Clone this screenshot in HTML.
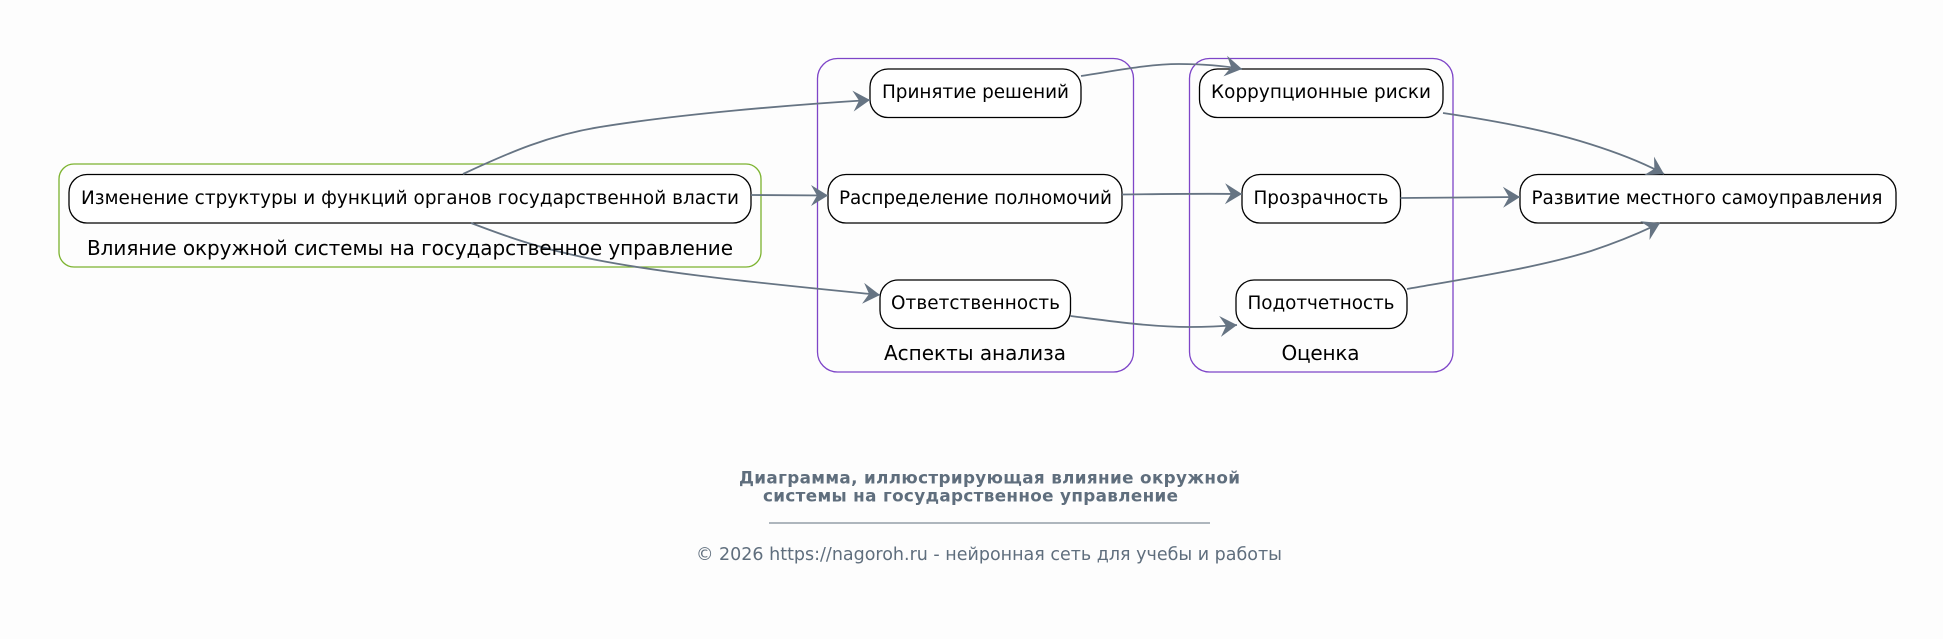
<!DOCTYPE html>
<html><head><meta charset="utf-8"><style>
html,body{margin:0;padding:0;background:#fdfdfd;width:1943px;height:639px;overflow:hidden}
svg{display:block}
text{font-family:"DejaVu Sans","Liberation Sans",sans-serif;text-anchor:middle;fill:#000}
.n{font-size:18.4px}
.l{font-size:20px}
.f{fill:#5f6e7d;font-size:17.5px}
.b{fill:#5f6e7d;font-size:16.8px;font-weight:bold}
rect.node{fill:#fff;stroke:#000;stroke-width:1.3}
rect.g{fill:none;stroke-width:1.3}
path.e{fill:none;stroke:#667483;stroke-width:1.8}
</style></head><body>
<svg width="1943" height="639" viewBox="0 0 1943 639" xmlns="http://www.w3.org/2000/svg">
<defs><marker id="a" markerUnits="userSpaceOnUse" markerWidth="26" markerHeight="26" refX="20" refY="12" orient="auto" overflow="visible"><path d="M3,1.5 L20,12 L3,22.5 L9,12 Z" fill="#667483"/></marker></defs>
<rect width="1943" height="639" fill="#fdfdfd"/>
<rect class="g" x="59" y="164" width="702" height="103" rx="15" stroke="#7cb32f"/>
<rect class="g" x="817.5" y="58.5" width="316" height="313.5" rx="20" stroke="#7e45c8"/>
<rect class="g" x="1189.5" y="58.5" width="263.5" height="313.5" rx="20" stroke="#7e45c8"/>

<rect class="node" x="69" y="174.5" width="682" height="48.5" rx="18"/>
<rect class="node" x="870" y="69" width="211" height="48.5" rx="18"/>
<rect class="node" x="828" y="174.5" width="294" height="48.5" rx="18"/>
<rect class="node" x="880" y="280" width="190.5" height="48.5" rx="18"/>
<rect class="node" x="1199.5" y="69" width="243.5" height="48.5" rx="18"/>
<rect class="node" x="1242" y="174.5" width="158.5" height="48.5" rx="18"/>
<rect class="node" x="1236" y="280" width="171" height="48.5" rx="18"/>
<rect class="node" x="1520" y="174.5" width="376" height="48.5" rx="18"/>

<path class="e" d="M463,174 C510,152 550,135 600,127 C680,114 790,105 870,100" marker-end="url(#a)"/>
<path class="e" d="M751,195 C780,195 805,195.5 828,195.5" marker-end="url(#a)"/>
<path class="e" d="M471,223 C500,234 530,245 565,253 C640,272 780,285 880,295" marker-end="url(#a)"/>
<path class="e" d="M1081,76 C1120,70 1150,64 1179,64 C1205,64 1225,66 1242,69" marker-end="url(#a)"/>
<path class="e" d="M1122,194.5 C1160,194 1200,193.5 1242,194" marker-end="url(#a)"/>
<path class="e" d="M1070.5,316 C1110,321 1150,327 1190,327 C1210,327 1225,326 1237,325" marker-end="url(#a)"/>
<path class="e" d="M1443,113 C1490,120 1540,129 1580,141 C1610,150 1640,161 1664,174" marker-end="url(#a)"/>
<path class="e" d="M1400.5,198 C1440,198 1480,197.5 1520,197" marker-end="url(#a)"/>
<path class="e" d="M1407,289 C1470,278 1540,267 1591,251 C1615,243 1640,233 1660,223" marker-end="url(#a)"/>

<text class="n" x="410" y="204" textLength="658">Изменение структуры и функций органов государственной власти</text>
<text class="l" x="410" y="255" textLength="646">Влияние окружной системы на государственное управление</text>
<text class="n" x="975.5" y="98" textLength="187">Принятие решений</text>
<text class="n" x="975.5" y="204" textLength="273">Распределение полномочий</text>
<text class="n" x="975.5" y="309" textLength="169">Ответственность</text>
<text class="l" x="975" y="360" textLength="182">Аспекты анализа</text>
<text class="n" x="1321" y="98" textLength="220">Коррупционные риски</text>
<text class="n" x="1321" y="204" textLength="135">Прозрачность</text>
<text class="n" x="1321" y="309" textLength="147">Подотчетность</text>
<text class="l" x="1320.5" y="360" textLength="78">Оценка</text>
<text class="n" x="1707" y="204" textLength="351">Развитие местного самоуправления</text>

<text class="b" x="989.5" y="483.5" textLength="501">Диаграмма, иллюстрирующая влияние окружной</text>
<text class="b" x="970.5" y="501.5" textLength="415">системы на государственное управление</text>
<line x1="769" y1="523" x2="1210" y2="523" stroke="#5f6e7d" stroke-width="1"/>
<text class="f" x="989" y="560" textLength="586">© 2026 https://nagoroh.ru - нейронная сеть для учебы и работы</text>
</svg>
</body></html>
